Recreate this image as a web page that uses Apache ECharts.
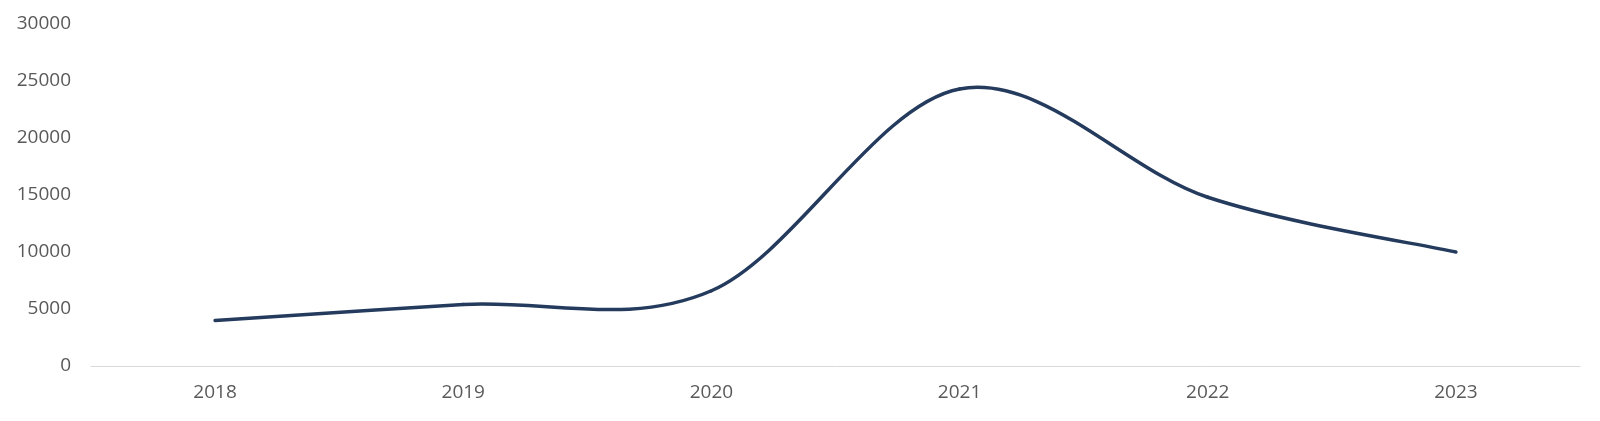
<!DOCTYPE html>
<html>
<head>
<meta charset="utf-8">
<script src="https://cdn.jsdelivr.net/npm/echarts@6/dist/echarts.min.js"></script>
<style>
  html, body { margin: 0; padding: 0; background: #fff; }
  #chart { width: 1600px; height: 421px; }
</style>
</head>
<body>
<div id="chart"></div>
<script>
// values
var years = ["2018", "2019", "2020", "2021", "2022", "2023"];
var values = [4000, 5400, 6600, 24300, 14800, 10000];
var yTicks = { min: 0, max: 30000, interval: 5000 };

// spreadsheet-style smoothing: cubic bezier through each point,
// control points from neighbouring points (catmull-rom, tension 1/6)
function renderSmoothLine(params, api) {
  if (params.dataIndex !== 0) return null;
  var pts = values.map(function(v, i) {
    return api.coord([i, v]);
  });
  var n = pts.length;
  var children = [];
  for (var i = 0; i < n - 1; i++) {
    var p0 = pts[Math.max(i - 1, 0)];
    var p1 = pts[i];
    var p2 = pts[i + 1];
    var p3 = pts[Math.min(i + 2, n - 1)];
    children.push({
      type: "bezierCurve",
      shape: {
        x1: p1[0], y1: p1[1],
        x2: p2[0], y2: p2[1],
        cpx1: p1[0] + (p2[0] - p0[0]) / 6,
        cpy1: p1[1] + (p2[1] - p0[1]) / 6,
        cpx2: p2[0] - (p3[0] - p1[0]) / 6,
        cpy2: p2[1] - (p3[1] - p1[1]) / 6,
      },
      style: {
        fill: null,
        stroke: "#243b5e",
        lineWidth: 3.5,
        lineCap: "round",
      },
    });
  }
  return { type: "group", children: children };
}

var chartDom = document.getElementById("chart");
var myChart = echarts.init(chartDom);
var option = {
  animation: false,
  grid: {
    left: 91,
    right: 20,
    top: 24,
    bottom: 55,
    containLabel: false,
  },
  xAxis: {
    type: "category",
    boundaryGap: true,
    data: years,
    axisLine: { lineStyle: { color: "#d9d9d9", width: 1 } },
    axisTick: { show: false },
    axisLabel: {
      color: "#595959",
      fontFamily: "Open Sans",
      fontSize: 19,
      margin: 17,
    },
  },
  yAxis: {
    type: "value",
    min: yTicks.min,
    max: yTicks.max,
    interval: yTicks.interval,
    splitLine: { show: false },
    axisLine: { show: false },
    axisTick: { show: false },
    axisLabel: {
      color: "#595959",
      fontFamily: "Open Sans",
      fontSize: 19,
      margin: 20,
      formatter: function(value) {
        return String(value);
      },
    },
  },
  series: [
    {
      type: "custom",
      data: values.map(function(v, i) { return [i, v]; }),
      renderItem: renderSmoothLine,
      clip: false,
    },
  ],
};
myChart.setOption(option);
</script>
</body>
</html>
